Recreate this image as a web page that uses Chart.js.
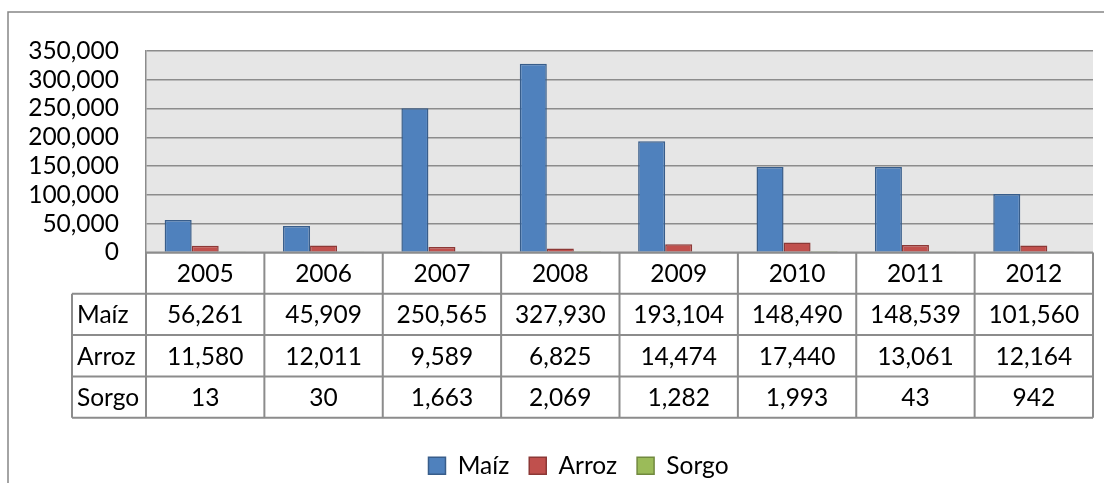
<!DOCTYPE html>
<html><head><meta charset="utf-8">
<script src="https://cdn.jsdelivr.net/npm/chart.js@4.4.1/dist/chart.umd.min.js"></script>
<style>html,body{margin:0;padding:0;background:#fff;overflow:hidden;}#wrap{position:absolute;left:0;top:0;width:1104px;height:483px;}</style>
</head><body><div id="wrap"><canvas id="c" width="1104" height="483"></canvas></div>
<script>
const categories = ['2005','2006','2007','2008','2009','2010','2011','2012'];
const maizValues  = [56261, 45909, 250565, 327930, 193104, 148490, 148539, 101560];
const arrozValues = [11580, 12011, 9589, 6825, 14474, 17440, 13061, 12164];
const sorgoValues = [13, 30, 1663, 2069, 1282, 1993, 43, 942];
const seriesNames = ['Maíz', 'Arroz', 'Sorgo'];
const yMin = 0, yMax = 350000, yStep = 50000;

const FONT = 'Lato';
const FSIZE = 24.5;
const fmt = v => Number(v).toLocaleString('en-US');
const seriesValues = [maizValues, arrozValues, sorgoValues];

const tablePlugin = {
  id: 'dataTable',
  afterLayout(chart) {
    if (chart.legend) {
      chart.legend.left += 64;
      chart.legend.top += 5;
      chart.legend.bottom += 5;
    }
  },
  beforeDraw(chart) {
    const ctx = chart.ctx, ca = chart.chartArea;
    ctx.save();
    ctx.fillStyle = '#ffffff';
    ctx.fillRect(0, 0, chart.width, chart.height);
    ctx.fillStyle = '#e6e6e6';
    ctx.fillRect(ca.left, ca.top, ca.right - ca.left, ca.bottom - ca.top);
    ctx.strokeStyle = '#868686';
    ctx.lineWidth = 1.5;
    ctx.beginPath();
    ctx.moveTo(8, chart.height);
    ctx.lineTo(8, 12);
    ctx.lineTo(chart.width, 12);
    ctx.stroke();
    ctx.restore();
  },
  afterDraw(chart) {
    const ctx = chart.ctx, ca = chart.chartArea, xs = chart.scales.x;
    const n = categories.length;
    const colW = xs.getPixelForValue(1) - xs.getPixelForValue(0);
    const rowH = 41.3;
    const top = ca.bottom;
    const labelLeft = 72;
    ctx.save();
    ctx.strokeStyle = '#8c8c8c';
    ctx.lineWidth = 2;
    ctx.beginPath();
    ctx.moveTo(ca.left, top); ctx.lineTo(ca.right, top);
    for (let r = 1; r <= 4; r++) {
      ctx.moveTo(labelLeft, top + r * rowH); ctx.lineTo(ca.right, top + r * rowH);
    }
    for (let i = 0; i <= n; i++) {
      const xb = xs.getPixelForValue(0) - colW / 2 + i * colW;
      ctx.moveTo(xb, top); ctx.lineTo(xb, top + 4 * rowH);
    }
    ctx.moveTo(labelLeft, top + rowH); ctx.lineTo(labelLeft, top + 4 * rowH);
    ctx.stroke();

    ctx.fillStyle = '#000';
    ctx.font = FSIZE + 'px ' + FONT;
    ctx.textBaseline = 'middle';
    ctx.textAlign = 'center';
    for (let i = 0; i < n; i++) {
      const cx = xs.getPixelForValue(i);
      ctx.fillText(categories[i], cx, top + rowH / 2 + 1);
      for (let s = 0; s < seriesValues.length; s++) {
        ctx.fillText(fmt(seriesValues[s][i]), cx, top + (s + 1) * rowH + rowH / 2 + 1);
      }
    }
    ctx.textAlign = 'left';
    for (let s = 0; s < seriesNames.length; s++) {
      ctx.fillText(seriesNames[s], labelLeft + 5, top + (s + 1) * rowH + rowH / 2 + 1);
    }
    ctx.restore();
  }
};

new Chart(document.getElementById('c'), {
  type: 'bar',
  data: {
    labels: categories,
    datasets: [
      { label: seriesNames[0], data: maizValues, backgroundColor: '#4f81bd', borderColor: '#385d8a', borderWidth: 1.5 },
      { label: seriesNames[1], data: arrozValues, backgroundColor: '#c0504d', borderColor: '#8c3836', borderWidth: 1.5 },
      { label: seriesNames[2], data: sorgoValues, backgroundColor: '#9bbb59', borderColor: '#71893f', borderWidth: 1.5 }
    ]
  },
  options: {
    responsive: false,
    animation: false,
    devicePixelRatio: 1,
    layout: { padding: { left: 0, top: 51, right: 11, bottom: 0 } },
    datasets: { bar: { categoryPercentage: 0.685, barPercentage: 1.0 } },
    plugins: {
      tooltip: { enabled: false },
      legend: {
        position: 'bottom',
        labels: {
          font: { family: FONT, size: FSIZE },
          color: '#000',
          boxWidth: 17,
          boxHeight: 17,
          padding: 20
        }
      }
    },
    scales: {
      x: {
        grid: { display: false },
        border: { display: false },
        ticks: { display: false },
        afterFit(scale) { scale.height = 176; }
      },
      y: {
        min: yMin, max: yMax,
        ticks: {
          stepSize: yStep,
          autoSkip: false,
          color: '#000',
          font: { family: FONT, size: FSIZE },
          padding: 27,
          callback: v => fmt(v)
        },
        grid: { color: '#8c8c8c', lineWidth: 1.5, drawTicks: false },
        border: { display: true, color: '#8c8c8c', width: 1.5 },
        afterFit(scale) { scale.width = 146; }
      }
    }
  },
  plugins: [tablePlugin]
});
</script>
</body></html>
